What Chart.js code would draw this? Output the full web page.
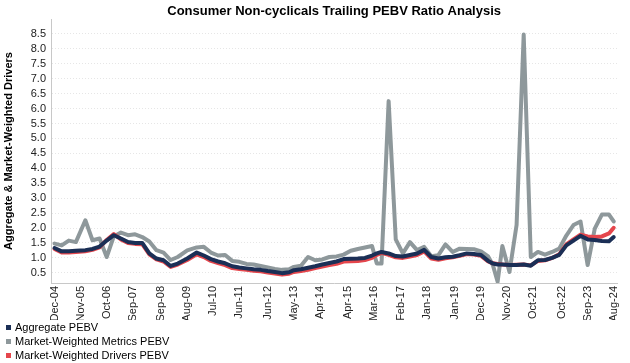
<!DOCTYPE html>
<html>
<head>
<meta charset="utf-8">
<script src="https://cdn.jsdelivr.net/npm/chart.js@4.4.1/dist/chart.umd.min.js"></script>
<style>
  html, body { margin: 0; padding: 0; background: #ffffff; }
  #wrap { position: relative; width: 630px; height: 363px; }
  #legend { position: absolute; left: 4px; top: 320px; font-family: "Liberation Sans", Arial, sans-serif; font-size: 11px; color: #000; }
  #legend div { height: 14px; line-height: 14px; white-space: nowrap; }
  #legend span.box { display: inline-block; width: 5px; height: 5px; margin: 0 4px 1px 2px; vertical-align: middle; }
</style>
</head>
<body>
<div id="wrap">
  <canvas id="c" width="630" height="363"></canvas>
  <div id="legend"></div>
</div>
<script>
// Month offsets from Dec-04 (0 = Dec-04)
const months = [0,3,6,9,13,16,19,22,25,28,31,34,37,40,43,46,49,52,56,60,63,66,69,72,75,78,81,84,87,90,93,96,99,101,104,107,110,113,116,119,122,125,128,131,134,136,138,141,144,147,150,153,156,159,162,165,168,171,174,177,180,183,185,187,189,192,195,198,201,204,207,210,213,216,219,222,225,228,231,234,236];

const aggregatePEBV = [1.33,1.22,1.22,1.24,1.26,1.30,1.38,1.58,1.76,1.65,1.53,1.50,1.50,1.15,0.98,0.92,0.73,0.81,0.98,1.18,1.08,0.96,0.88,0.82,0.72,0.68,0.65,0.62,0.60,0.56,0.53,0.49,0.52,0.59,0.62,0.67,0.72,0.78,0.83,0.88,0.96,0.97,0.98,1.00,1.08,1.15,1.20,1.15,1.06,1.05,1.10,1.15,1.27,1.03,0.98,1.02,1.04,1.09,1.15,1.13,1.10,0.90,0.81,0.78,0.78,0.76,0.76,0.78,0.74,0.92,0.93,1.00,1.10,1.42,1.58,1.74,1.62,1.60,1.57,1.56,1.70];

const metricsPEBV = [1.48,1.42,1.58,1.53,2.26,1.59,1.65,1.03,1.72,1.85,1.76,1.79,1.70,1.55,1.26,1.18,0.93,1.03,1.25,1.35,1.37,1.18,1.08,1.10,0.90,0.87,0.80,0.78,0.73,0.68,0.63,0.60,0.62,0.70,0.74,1.03,0.92,0.95,1.03,1.05,1.11,1.24,1.30,1.35,1.40,0.81,0.81,6.25,1.62,1.15,1.53,1.26,1.37,1.06,1.09,1.45,1.20,1.31,1.30,1.29,1.22,1.05,0.76,0.20,1.40,0.53,2.10,8.48,1.03,1.20,1.11,1.20,1.31,1.75,2.10,2.22,0.76,1.98,2.45,2.45,2.22];

const driversPEBV = [1.30,1.18,1.18,1.20,1.22,1.27,1.35,1.60,1.80,1.62,1.50,1.47,1.46,1.12,0.95,0.88,0.70,0.78,0.93,1.12,1.03,0.90,0.83,0.76,0.66,0.63,0.60,0.57,0.55,0.51,0.48,0.44,0.47,0.53,0.56,0.60,0.66,0.71,0.76,0.80,0.88,0.89,0.90,0.93,1.00,1.10,1.17,1.10,1.02,1.00,1.05,1.10,1.22,0.98,0.94,0.99,1.02,1.07,1.13,1.11,1.07,0.88,0.82,0.80,0.78,0.76,0.77,0.78,0.75,0.90,0.92,1.00,1.12,1.45,1.62,1.78,1.72,1.70,1.72,1.82,2.01];

const tickMonths = [0,11,22,33,45,56,67,78,90,101,112,124,135,146,157,169,180,191,202,214,225,236];
const tickLabels = ["Dec-04","Nov-05","Oct-06","Sep-07","Sep-08","Aug-09","Jul-10","Jun-11","Jun-12","May-13","Apr-14","Apr-15","Mar-16","Feb-17","Jan-18","Jan-19","Dec-19","Nov-20","Oct-21","Oct-22","Sep-23","Aug-24"];

const yTicks = [0.5,1.0,1.5,2.0,2.5,3.0,3.5,4.0,4.5,5.0,5.5,6.0,6.5,7.0,7.5,8.0,8.5];

const seriesNames = ["Aggregate PEBV","Market-Weighted Metrics PEBV","Market-Weighted Drivers PEBV"];
const seriesColors = ["#1b2f56","#8e989b","#e5464c"];

function pts(vals) { return months.map((m, i) => ({ x: m, y: vals[i] })); }

const font = "'Liberation Sans', Arial, sans-serif";

const chart = new Chart(document.getElementById('c'), {
  type: 'line',
  data: {
    datasets: [
      { label: seriesNames[0], data: pts(aggregatePEBV), borderColor: seriesColors[0], backgroundColor: seriesColors[0], order: 0 },
      { label: seriesNames[1], data: pts(metricsPEBV), borderColor: seriesColors[1], backgroundColor: seriesColors[1], order: 2 },
      { label: seriesNames[2], data: pts(driversPEBV), borderColor: seriesColors[2], backgroundColor: seriesColors[2], order: 1 }
    ]
  },
  options: {
    responsive: false,
    animation: false,
    layout: { padding: { top: 0, left: 0, right: 8, bottom: 43 } },
    elements: {
      point: { radius: 0 },
      line: { borderWidth: 4, tension: 0, borderJoinStyle: 'round', borderCapStyle: 'round' }
    },
    plugins: {
      legend: { display: false },
      tooltip: { enabled: false },
      title: {
        display: true,
        fullSize: false,
        text: 'Consumer Non-cyclicals Trailing PEBV Ratio Analysis',
        color: '#000',
        font: { family: font, size: 13, weight: 'bold', lineHeight: 1 },
        padding: { top: 5, bottom: 1 }
      }
    },
    scales: {
      x: {
        type: 'linear',
        min: -1.5,
        max: 237.5,
        afterBuildTicks: (s) => { s.ticks = tickMonths.map(v => ({ value: v })); },
        afterFit: (s) => { s.height = 37; },
        ticks: {
          autoSkip: false,
          maxRotation: 90,
          minRotation: 90,
          padding: 3,
          color: '#222',
          font: { family: font, size: 11 },
          callback: (v) => { const i = tickMonths.indexOf(v); return i >= 0 ? tickLabels[i] : ''; }
        },
        grid: { display: false, drawTicks: false },
        border: { display: true, color: '#c8c8c8', width: 1 }
      },
      y: {
        min: 0.16,
        max: 9.0,
        afterBuildTicks: (s) => { s.ticks = yTicks.map(v => ({ value: v })); },
        afterFit: (s) => { s.width = 51; },
        ticks: {
          padding: 5,
          color: '#222',
          font: { family: font, size: 11 },
          callback: (v) => Number(v).toFixed(1)
        },
        grid: { color: '#e6e6e6', lineWidth: 1, drawTicks: false },
        border: { display: true, color: '#c8c8c8', width: 1, dash: [1, 2] },
        title: {
          display: true,
          text: 'Aggregate & Market-Weighted Drivers',
          color: '#000',
          font: { family: font, size: 11, weight: 'bold' },
          padding: { top: 2, bottom: 0 }
        }
      }
    }
  }
});

// legend as real text
const lg = document.getElementById('legend');
seriesNames.forEach((n, i) => {
  const d = document.createElement('div');
  const b = document.createElement('span');
  b.className = 'box';
  b.style.background = seriesColors[i];
  d.appendChild(b);
  d.appendChild(document.createTextNode(n));
  lg.appendChild(d);
});
</script>
</body>
</html>
